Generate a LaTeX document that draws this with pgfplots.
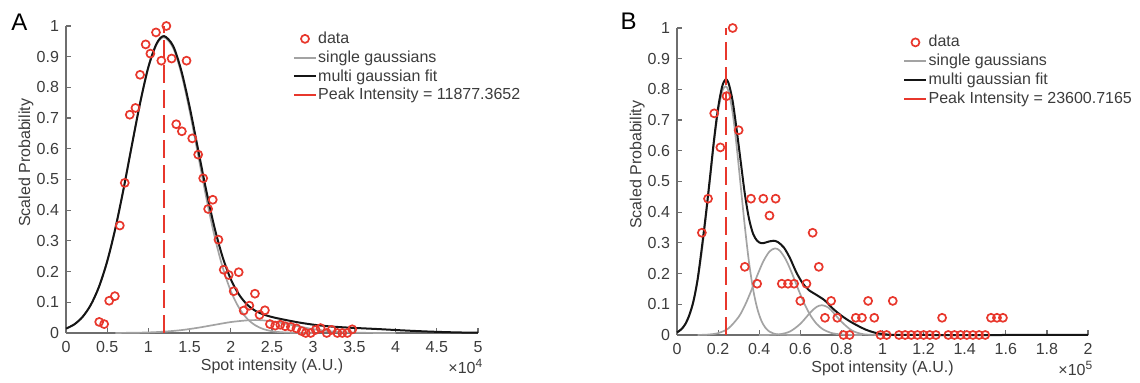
\documentclass[border=0pt]{standalone}
\usepackage{fontspec}
\setmainfont{Liberation Sans}
\usepackage{pgfplots}
\pgfplotsset{compat=1.18}
\definecolor{datared}{HTML}{E8372C}
\definecolor{fitgray}{HTML}{A3A3A3}
\definecolor{fitblack}{HTML}{151515}
\definecolor{axgray}{HTML}{6E6E6E}
\definecolor{txtgray}{HTML}{3C3C3C}
\pgfplotsset{
 mystyle/.style={
  scale only axis,
  axis lines=left,
  axis line style={-, draw=axgray, line width=0.8pt},
  tick style={draw=axgray, line width=0.6pt},
  tick align=inside,
  major tick length=2.5pt,
  ymin=0, ymax=1,
  ytick={0,0.1,0.2,0.3,0.4,0.5,0.6,0.7,0.8,0.9,1},
  yticklabels={0,0.1,0.2,0.3,0.4,0.5,0.6,0.7,0.8,0.9,1},
  every tick label/.append style={font=\fontsize{8}{9}\selectfont, text=txtgray},
  /pgf/number format/assume math mode=true,
  label style={font=\fontsize{8}{9}\selectfont, text=txtgray},
  ylabel={Scaled Probability},
  xlabel={Spot intensity (A.U.)},
  xlabel style={at={(axis description cs:0.5,-0.11)}, anchor=center},
  ylabel style={at={(axis description cs:-0.097,0.554)}, anchor=center},
  xticklabel style={yshift=-0.5pt},
  clip=false,
  scaled ticks=false,
  legend cell align=left,
  legend style={draw=none, fill=none, font=\fontsize{8}{9}\selectfont, text=txtgray,
     anchor=north west, row sep=0pt, inner sep=0pt,
     nodes={inner sep=0.6pt, text height=6.4pt, text depth=1.8pt}},
  legend image code/.code={\draw[#1] (0pt,0pt) -- (11pt,0pt);},
 },
 gaussline/.style={fitgray, line width=0.85pt, smooth},
 fitline/.style={fitblack, line width=1.0pt, smooth},
 peakline/.style={datared, line width=1.0pt, dash pattern=on 9pt off 3.5pt},
 datamarks/.style={only marks, mark=o, mark size=2.0pt, mark options={draw=datared, line width=0.85pt}},
}
\begin{document}
\begin{tikzpicture}
\useasboundingbox (0,0) rectangle (570pt,191.5pt);
\node[font=\fontsize{12}{14}\selectfont, text=black] at (9.75pt,180.25pt) {A};
\node[font=\fontsize{12}{14}\selectfont, text=black] at (314.25pt,181pt) {B};

% ---------------- Panel A ----------------
\begin{axis}[mystyle,
  at={(33pt,25pt)}, anchor=south west,
  width=206pt, height=153.5pt,
  xmin=0, xmax=5,
  xtick={0,0.5,1,1.5,2,2.5,3,3.5,4,4.5,5},
  xticklabels={0,0.5,1,1.5,2,2.5,3,3.5,4,4.5,5},
  legend style={at={(axis description cs:0.55,0.99)}},
]
\addlegendimage{legend image code/.code={\draw[datared, line width=0.85pt] (5.5pt,0pt) circle (2.0pt);}}
\addlegendentry{data}
\addlegendimage{fitgray, line width=0.85pt}
\addlegendentry{single gaussians}
\addlegendimage{fitblack, line width=1.0pt}
\addlegendentry{multi gaussian fit}
\addlegendimage{datared, line width=1.0pt}
\addlegendentry{Peak Intensity = 11877.3652}

\addplot[gaussline, forget plot] coordinates {
(0,0.0142) (0.1,0.028) (0.2,0.0521) (0.3,0.0912) (0.4,0.1503) (0.5,0.2335)
(0.6,0.3418) (0.7,0.4713) (0.8,0.6124) (0.9,0.7498) (1.0,0.8649) (1.1,0.9401)
(1.19,0.963) (1.3,0.9289) (1.4,0.8446) (1.5,0.7235) (1.6,0.5839) (1.7,0.444)
(1.8,0.3182) (1.9,0.2149) (2.0,0.1367) (2.1,0.0819) (2.2,0.0462) (2.3,0.0246)
(2.4,0.0124) (2.5,0.0058) (2.6,0.0026) (2.8,0.0004) (3.0,0)};
\addplot[gaussline, forget plot] coordinates {
(0.6,0.0001) (0.8,0.0007) (1.0,0.0018) (1.2,0.0045) (1.4,0.0094) (1.6,0.017)
(1.8,0.0264) (2.0,0.0356) (2.2,0.0412) (2.3,0.042) (2.4,0.041) (2.6,0.0336)
(2.8,0.0227) (3.0,0.0125) (3.2,0.0057) (3.4,0.0021) (3.6,0.0006) (3.8,0.0002) (4.0,0)};
\addplot[fitline, forget plot] coordinates {
(0,0.0142) (0.1,0.028) (0.2,0.0521) (0.3,0.0912) (0.4,0.1503) (0.5,0.2335)
(0.6,0.3418) (0.7,0.4713) (0.8,0.6124) (0.9,0.7498) (1.0,0.8667) (1.1,0.943)
(1.19,0.967) (1.3,0.935) (1.4,0.854) (1.5,0.737) (1.6,0.602) (1.7,0.467)
(1.8,0.346) (1.9,0.248) (2.0,0.175) (2.1,0.125) (2.2,0.092) (2.3,0.072)
(2.4,0.060) (2.5,0.052) (2.6,0.046) (2.8,0.0355) (3.0,0.0271) (3.2,0.0215)
(3.4,0.0179) (3.6,0.0152) (3.8,0.0126) (4.0,0.0097) (4.2,0.007) (4.4,0.0047)
(4.6,0.0029) (4.8,0.0016) (5.0,0.0008)};
\addplot[peakline, forget plot] coordinates {(1.18774,0) (1.18774,1)};
\addplot[datamarks, forget plot] coordinates {
(0.403,0.036) (0.463,0.029) (0.524,0.105) (0.593,0.12) (0.653,0.35) (0.713,0.489)
(0.774,0.711) (0.843,0.733) (0.899,0.841) (0.967,0.94) (1.024,0.91) (1.092,0.979)
(1.157,0.887) (1.218,1.0) (1.282,0.894) (1.338,0.68) (1.406,0.657) (1.463,0.887)
(1.532,0.634) (1.604,0.581) (1.665,0.504) (1.725,0.404) (1.781,0.434) (1.85,0.304)
(1.914,0.206) (1.975,0.189) (2.035,0.136) (2.096,0.198) (2.156,0.073) (2.225,0.089)
(2.293,0.128) (2.349,0.059) (2.414,0.074) (2.475,0.029) (2.539,0.024) (2.6,0.027)
(2.66,0.022) (2.729,0.02) (2.797,0.015) (2.862,0.006) (2.91,0) (2.97,0)
(3.03,0.01) (3.09,0.016) (3.164,0) (3.224,0.01) (3.293,0) (3.353,0)
(3.414,0) (3.474,0.012)};
\node[anchor=east, font=\fontsize{8}{9}\selectfont, text=txtgray] at (axis description cs:1.03,-0.11) {×10\textsuperscript{4}};
\end{axis}

% ---------------- Panel B ----------------
\begin{axis}[mystyle,
  at={(338.5pt,24pt)}, anchor=south west,
  width=205.5pt, height=153.5pt,
  xmin=0, xmax=2,
  xtick={0,0.2,0.4,0.6,0.8,1,1.2,1.4,1.6,1.8,2},
  xticklabels={0,0.2,0.4,0.6,0.8,1,1.2,1.4,1.6,1.8,2},
  legend style={at={(axis description cs:0.55,0.985)}},
]
\addlegendimage{legend image code/.code={\draw[datared, line width=0.85pt] (5.5pt,0pt) circle (2.0pt);}}
\addlegendentry{data}
\addlegendimage{fitgray, line width=0.85pt}
\addlegendentry{single gaussians}
\addlegendimage{fitblack, line width=1.0pt}
\addlegendentry{multi gaussian fit}
\addlegendimage{datared, line width=1.0pt}
\addlegendentry{Peak Intensity = 23600.7165}

\addplot[gaussline, forget plot] coordinates {
(0,0.0083) (0.02,0.0175) (0.04,0.0345) (0.06,0.0635) (0.08,0.1096) (0.10,0.177)
(0.12,0.268) (0.14,0.380) (0.16,0.504) (0.18,0.626) (0.20,0.728) (0.22,0.793)
(0.236,0.81) (0.25,0.795) (0.27,0.727) (0.29,0.616) (0.31,0.485) (0.33,0.354)
(0.35,0.239) (0.37,0.150) (0.39,0.0876) (0.41,0.0473) (0.43,0.0237) (0.45,0.011)
(0.47,0.0048) (0.50,0.0012) (0.55,0.0001) (0.6,0)};
\addplot[gaussline, forget plot] coordinates {
(0.10,0.0002) (0.15,0.0013) (0.20,0.0061) (0.25,0.0214) (0.30,0.0589) (0.33,0.0957)
(0.36,0.1423) (0.39,0.1932) (0.42,0.2398) (0.45,0.2719) (0.477,0.282) (0.50,0.2747)
(0.53,0.2451) (0.56,0.1999) (0.59,0.1489) (0.62,0.1015) (0.65,0.0632) (0.68,0.0359)
(0.71,0.0187) (0.75,0.0068) (0.80,0.0015) (0.85,0.0003) (0.9,0)};
\addplot[gaussline, forget plot] coordinates {
(0.40,0) (0.45,0.0003) (0.50,0.0023) (0.55,0.0115) (0.60,0.0364) (0.65,0.0741)
(0.68,0.0918) (0.705,0.097) (0.73,0.0918) (0.75,0.081) (0.80,0.0435) (0.85,0.015)
(0.90,0.0033) (0.95,0.0005) (1.0,0)};
\addplot[fitline, forget plot] coordinates {
(0,0.0085) (0.02,0.018) (0.04,0.035) (0.06,0.065) (0.08,0.11) (0.10,0.18)
(0.12,0.28) (0.14,0.39) (0.16,0.51) (0.18,0.635) (0.20,0.74) (0.22,0.81)
(0.236,0.832) (0.25,0.822) (0.27,0.765) (0.29,0.67) (0.31,0.565) (0.33,0.46)
(0.35,0.38) (0.37,0.33) (0.39,0.307) (0.41,0.299) (0.43,0.301) (0.45,0.305)
(0.47,0.307) (0.49,0.303) (0.52,0.285) (0.55,0.25) (0.58,0.205) (0.61,0.17)
(0.64,0.147) (0.68,0.13) (0.72,0.112) (0.76,0.085) (0.80,0.063) (0.84,0.045)
(0.88,0.03) (0.92,0.017) (0.96,0.008) (1.0,0.003) (1.05,0.0005) (1.1,0) (2.0,0)};
\addplot[peakline, forget plot] coordinates {(0.236007,0) (0.236007,1)};
\addplot[datamarks, forget plot] coordinates {
(0.121,0.333) (0.151,0.444) (0.181,0.722) (0.211,0.611) (0.241,0.778) (0.271,1.0)
(0.300,0.667) (0.330,0.222) (0.360,0.444) (0.390,0.167) (0.420,0.444) (0.450,0.389)
(0.480,0.444) (0.510,0.167) (0.540,0.167) (0.570,0.167) (0.600,0.111) (0.630,0.167)
(0.660,0.333) (0.690,0.222) (0.720,0.056) (0.750,0.111) (0.780,0.056) (0.810,0)
(0.840,0) (0.870,0.056) (0.900,0.056) (0.930,0.111) (0.960,0.056) (0.990,0)
(1.020,0) (1.050,0.111) (1.080,0) (1.110,0) (1.140,0) (1.170,0) (1.200,0)
(1.230,0) (1.260,0) (1.290,0.056) (1.320,0) (1.350,0) (1.380,0) (1.410,0)
(1.440,0) (1.470,0) (1.500,0) (1.528,0.056) (1.557,0.056) (1.586,0.056)};
\node[anchor=east, font=\fontsize{8}{9}\selectfont, text=txtgray] at (axis description cs:1.03,-0.11) {×10\textsuperscript{5}};
\end{axis}
\end{tikzpicture}
\end{document}
